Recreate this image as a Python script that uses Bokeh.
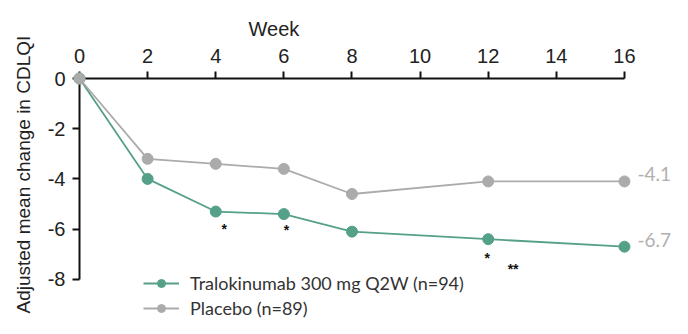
from bokeh.plotting import figure
from bokeh.models import (LinearAxis, FixedTicker, Range1d, Legend, LegendItem,
                          ColumnDataSource, Title)
from bokeh.core.properties import value
from bokeh.embed import file_html
from bokeh.resources import INLINE

# ---- data ----
weeks = [0, 2, 4, 6, 8, 12, 16]
tralokinumab = [0.0, -4.0, -5.3, -5.4, -6.1, -6.4, -6.7]
placebo = [0.0, -3.2, -3.4, -3.6, -4.6, -4.1, -4.1]
series_names = ["Tralokinumab 300 mg Q2W (n=94)", "Placebo (n=89)"]
week_ticks = [0, 2, 4, 6, 8, 10, 12, 14, 16]
cdlqi_ticks = [0, -2, -4, -6, -8]
sig_weeks = [4.25, 6.08, 11.97, 12.73]
sig_values = [-5.87, -5.93, -7.05, -7.45]
sig_marks = ["*", "*", "*", "**"]
x_title = "Week"
y_title = "Adjusted mean change in CDLQI"

GREEN = "#55a088"
GRAY = "#ababab"
AX_FONT = "Liberation Sans"
LEG_FONT = "Lato"

p = figure(width=672, height=318, output_backend="svg", toolbar_location=None,
           x_range=Range1d(0, 17.41), y_range=Range1d(-9.56, 0),
           x_axis_location=None, y_axis_location=None,
           min_border_left=79, min_border_top=78, min_border_right=0,
           min_border_bottom=0, outline_line_color=None,
           background_fill_color="white", border_fill_color="white")
for g in p.grid:
    g.visible = False

def style_axis(ax, standoff):
    ax.axis_line_width = 2
    ax.axis_line_color = "#111111"
    ax.major_tick_in = 0
    ax.major_tick_out = 7
    ax.major_tick_line_width = 2
    ax.major_tick_line_color = "#111111"
    ax.minor_tick_in = 0
    ax.minor_tick_out = 0
    ax.major_label_text_font = AX_FONT
    ax.major_label_text_font_size = "20px"
    ax.major_label_text_color = "#222222"
    ax.major_label_standoff = standoff

xaxis = LinearAxis(ticker=FixedTicker(ticks=week_ticks), bounds=(0, 16))
style_axis(xaxis, 9)
p.add_layout(xaxis, "above")
p.add_layout(Title(text=x_title, align="left", offset=169, standoff=12,
                   text_font=AX_FONT, text_font_size="20px",
                   text_font_style="normal", text_color="#222222"), "above")

yaxis = LinearAxis(ticker=FixedTicker(ticks=cdlqi_ticks), bounds=(-8, 0),
                   major_label_overrides={t: str(t) for t in cdlqi_ticks})
style_axis(yaxis, 7)
p.add_layout(yaxis, "left")
p.add_layout(Title(text=y_title, align="left", offset=5, standoff=21,
                   text_font=AX_FONT, text_font_size="19px",
                   text_font_style="normal", text_color="#222222"), "left")

src_t = ColumnDataSource(dict(x=weeks, y=tralokinumab))
src_p = ColumnDataSource(dict(x=weeks, y=placebo))

gl = p.line("x", "y", source=src_t, line_color=GREEN, line_width=1.8, level="overlay")
gs = p.scatter("x", "y", source=src_t, size=11, fill_color=GREEN, line_color=GREEN, level="overlay")
pl = p.line("x", "y", source=src_p, line_color=GRAY, line_width=1.8, level="overlay")
ps = p.scatter("x", "y", source=src_p, size=11, fill_color=GRAY, line_color=GRAY, level="overlay")

# end labels
end_x = [weeks[-1], weeks[-1]]
end_y = [tralokinumab[-1], placebo[-1]]
end_text = [f"{v:.1f}" for v in end_y]
p.text(x=end_x, y=end_y, text=end_text, x_offset=13, y_offset=-7,
       text_font=value(LEG_FONT), text_font_size="19px", text_color="#b0b0b0",
       text_align="left", text_baseline="middle", level="overlay")

# significance marks
p.text(x=sig_weeks, y=sig_values, text=sig_marks, text_font=value(AX_FONT),
       text_font_size="14px", text_font_style="bold", text_color="#111111",
       text_align="center", text_baseline="middle", y_offset=3)

legend = Legend(items=[LegendItem(label=series_names[0], renderers=[gl, gs]),
                       LegendItem(label=series_names[1], renderers=[pl, ps])],
                location=(64, -1), glyph_width=36, glyph_height=20, spacing=3,
                padding=0, margin=0, label_standoff=11,
                label_text_font=LEG_FONT, label_text_font_size="18px",
                label_text_color="#333333", border_line_color=None,
                background_fill_alpha=0)
p.add_layout(legend, "center")

open("out.html", "w").write(file_html(p, INLINE))
